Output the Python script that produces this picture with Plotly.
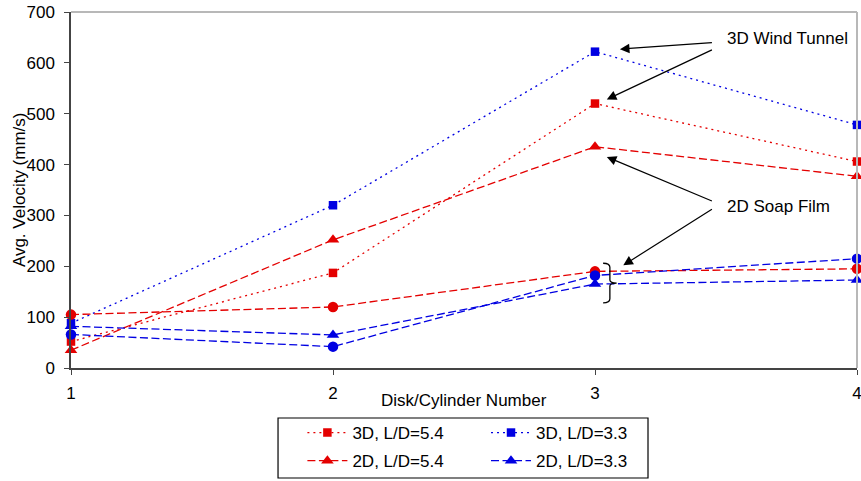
import plotly.graph_objects as go

# Disk/cylinder positions along the array
disk_number = [1, 2, 3, 4]

# Average velocity (mm/s) per configuration
vel_3d_ld54 = [52, 187, 520, 406]
vel_3d_ld33 = [88, 320, 622, 478]
vel_2d_ld54 = [35, 252, 435, 377]
vel_2d_ld33 = [82, 65, 165, 173]
vel_2d_ld54_circ = [105, 120, 190, 195]
vel_2d_ld33_circ = [66, 42, 182, 215]

RED = "rgb(228,0,0)"
BLUE = "rgb(0,0,226)"
FONT = "Liberation Sans, Arial, sans-serif"
DOT = "2px,4px"
DASH = "8px,3.5px"

fig = go.Figure()


def add(y, name, color, dash, symbol, size, legend=None, show=True):
    fig.add_trace(go.Scatter(
        x=disk_number, y=y, name=name, mode="lines+markers",
        line=dict(color=color, width=1.3, dash=dash),
        marker=dict(color=color, symbol=symbol, size=size),
        cliponaxis=False, showlegend=show,
        legend=legend if legend else "legend",
        legendgroup=name,
    ))


add(vel_3d_ld54, "3D, L/D=5.4", RED, DOT, "square", 8.5, "legend")
add(vel_3d_ld33, "3D, L/D=3.3", BLUE, DOT, "square", 8.5, "legend2")
add(vel_2d_ld54, "2D, L/D=5.4", RED, DASH, "triangle-up", 11, "legend")
add(vel_2d_ld33, "2D, L/D=3.3", BLUE, DASH, "triangle-up", 11, "legend2")
add(vel_2d_ld54_circ, "2D circle, L/D=5.4", RED, DASH, "circle", 10.5, show=False)
add(vel_2d_ld33_circ, "2D circle, L/D=3.3", BLUE, DASH, "circle", 10.5, show=False)

# Callout arrows: (head x, head y, tail x, tail y) in data units
arrows = [
    (3.095, 627, 3.452, 640),
    (3.045, 528, 3.452, 627),
    (3.045, 415, 3.452, 327),
    (3.108, 202, 3.452, 314),
]
for hx, hy, tx, ty in arrows:
    fig.add_annotation(
        x=hx, y=hy, ax=tx, ay=ty, xref="x", yref="y", axref="x", ayref="y",
        text="", showarrow=True, arrowhead=2, arrowsize=1.6, arrowwidth=1.2,
        arrowcolor="black",
    )

fig.add_annotation(x=3.496, y=648, xref="x", yref="y", text="3D Wind Tunnel",
                   showarrow=False, xanchor="left", yanchor="middle",
                   font=dict(size=17, color="black", family=FONT))
fig.add_annotation(x=3.496, y=317, xref="x", yref="y", text="2D Soap Film",
                   showarrow=False, xanchor="left", yanchor="middle",
                   font=dict(size=17, color="black", family=FONT))

# Axis titles
fig.add_annotation(x=0.5, y=-0.09, xref="paper", yref="paper",
                   text="Disk/Cylinder Number", showarrow=False,
                   xanchor="center", yanchor="middle",
                   font=dict(size=17, color="black", family=FONT))
fig.add_annotation(x=-0.066, y=0.5, xref="paper", yref="paper",
                   text="Avg. Velocity (mm/s)", showarrow=False, textangle=-90,
                   xanchor="center", yanchor="middle",
                   font=dict(size=17, color="black", family=FONT))

# Curly brace grouping the soap-film points at disk 3
bx, bw = 3.031, 0.043
y_top, y_bot = 206, 128
y_mid = (y_top + y_bot) / 2
brace = (
    f"M {bx},{y_top} Q {bx + bw * 0.6},{y_top} {bx + bw * 0.6},{y_top - 8} "
    f"L {bx + bw * 0.6},{y_mid + 6} Q {bx + bw * 0.6},{y_mid} {bx + bw * 1.2},{y_mid} "
    f"Q {bx + bw * 0.6},{y_mid} {bx + bw * 0.6},{y_mid - 6} "
    f"L {bx + bw * 0.6},{y_bot + 8} Q {bx + bw * 0.6},{y_bot} {bx},{y_bot}"
)
fig.add_shape(type="path", path=brace, xref="x", yref="y",
              line=dict(color="black", width=1.3))

# Light frame on top and right of the plot area
fig.add_shape(type="line", xref="paper", yref="paper", x0=0, x1=1, y0=1, y1=1,
              line=dict(color="#b8b8b8", width=2))
fig.add_shape(type="line", xref="paper", yref="paper", x0=1, x1=1, y0=0, y1=1,
              line=dict(color="#b8b8b8", width=2))

# Legend frame
fig.add_shape(type="rect", xref="paper", yref="paper",
              x0=0.2634, x1=0.7341, y0=-0.309, y1=-0.1404,
              line=dict(color="black", width=1.2), fillcolor="white", layer="below")

legend_common = dict(
    orientation="v", bgcolor="rgba(0,0,0,0)", borderwidth=0,
    font=dict(size=17, color="black", family=FONT),
    xanchor="left", yanchor="top", tracegroupgap=3, itemwidth=40,
)

fig.update_layout(
    width=861, height=481,
    margin=dict(l=71, r=4, t=12, b=113, autoexpand=False),
    paper_bgcolor="white", plot_bgcolor="white",
    font=dict(family=FONT, size=17, color="black"),
    legend=dict(x=0.2944, y=-0.132, **legend_common),
    legend2=dict(x=0.528, y=-0.132, **legend_common),
    xaxis=dict(
        range=[1, 4], tickvals=disk_number, ticktext=[str(v) for v in disk_number],
        showgrid=False, zeroline=False, showline=True, linecolor="#444444",
        linewidth=1.5, ticks="outside", ticklen=5, tickcolor="#444444",
        ticklabelstandoff=4, ticklabeloverflow="allow",
        tickfont=dict(size=17, family=FONT),
    ),
    yaxis=dict(
        range=[0, 700], tickvals=[0, 100, 200, 300, 400, 500, 600, 700],
        showgrid=False, zeroline=False, showline=True, linecolor="#444444",
        linewidth=1.5, ticks="outside", ticklen=5, tickcolor="#444444",
        ticklabelstandoff=6, ticklabeloverflow="allow",
        tickfont=dict(size=17, family=FONT),
    ),
)

fig.write_html("out.html")
